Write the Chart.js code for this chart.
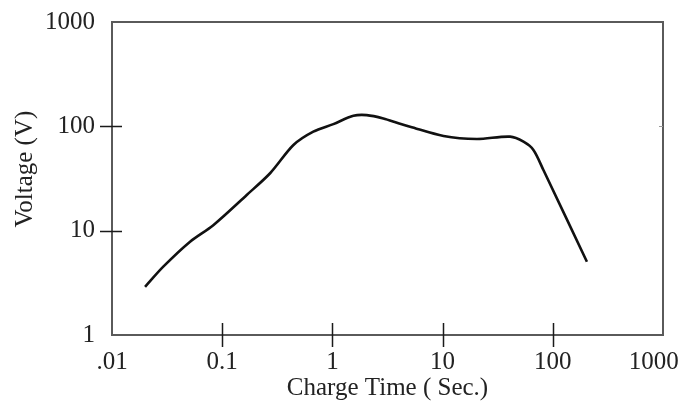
<!DOCTYPE html>
<html>
<head>
<meta charset="utf-8">
<script src="https://cdn.jsdelivr.net/npm/chart.js@4/dist/chart.umd.min.js"></script>
<style>
  html, body { margin: 0; padding: 0; background: #ffffff; }
  #wrap { width: 684px; height: 407px; position: relative; }
</style>
</head>
<body>
<div id="wrap"><canvas id="c" width="684" height="407"></canvas></div>
<script>
// Data (log-log chart)
const chargeTime = [0.01995, 0.0292, 0.0511, 0.083, 0.167, 0.272, 0.443, 0.671, 1.02, 1.55, 2.05, 2.90, 3.97, 5.07, 10.2, 20.4, 41.0, 54.2, 66.7, 82.2, 204];
const voltage    = [2.90, 4.52, 7.84, 11.3, 22.0, 35.5, 66.2, 88.9, 105, 126, 128, 119, 107, 99, 80.8, 75.6, 79.6, 71.2, 59.3, 38.1, 5.04];

const xTickValues = [0.01, 0.1, 1, 10, 100, 1000];
const xTickLabels = ['.01', '0.1', '1', '10', '100', '1000   '];
const yTickValues = [1, 10, 100, 1000];
const yTickLabels = ['1', '10', '100', '1000'];

const xTitle = 'Charge Time ( Sec.)';
const yTitle = '   Voltage (V)';

const FONT = 'Liberation Serif, Times New Roman, serif';

const points = chargeTime.map((t, i) => ({ x: t, y: voltage[i] }));

const frameAndTicks = {
  id: 'frameAndTicks',
  afterDatasetsDraw(chart) {
    const ctx = chart.ctx;
    const a = chart.chartArea;
    const xs = chart.scales.x, ys = chart.scales.y;
    ctx.save();
    // frame
    ctx.strokeStyle = '#5a5a5a';
    ctx.lineWidth = 2;
    ctx.strokeRect(a.left, a.top, a.right - a.left, a.bottom - a.top);
    // ticks crossing the axes
    ctx.strokeStyle = '#1a1a1a';
    ctx.lineWidth = 1.5;
    ctx.beginPath();
    xTickValues.forEach(v => {
      const px = Math.round(xs.getPixelForValue(v)) + 0.5;
      if (v === 0.01 || v === 1000) return;
      ctx.moveTo(px, a.bottom - 12);
      ctx.lineTo(px, a.bottom + 12);
    });
    yTickValues.forEach(v => {
      const py = Math.round(ys.getPixelForValue(v)) + 0.5;
      if (v === 1 || v === 1000) return;
      ctx.moveTo(a.left - 12, py);
      ctx.lineTo(a.left + 10, py);
    });
    ctx.stroke();
    // tiny mark on right axis
    ctx.strokeStyle = '#999';
    ctx.lineWidth = 1;
    ctx.beginPath();
    const py100 = Math.round(ys.getPixelForValue(100)) + 0.5;
    ctx.moveTo(a.right - 4, py100);
    ctx.lineTo(a.right, py100);
    ctx.stroke();
    ctx.restore();
  }
};

new Chart(document.getElementById('c'), {
  type: 'scatter',
  data: {
    datasets: [{
      data: points,
      showLine: true,
      borderColor: '#111111',
      backgroundColor: '#111111',
      borderWidth: 2.6,
      pointRadius: 0,
      tension: 0.3
    }]
  },
  options: {
    responsive: false,
    animation: false,
    devicePixelRatio: 1,
    layout: { padding: { top: 22, right: 21, left: 0, bottom: 0 } },
    plugins: { legend: { display: false }, tooltip: { enabled: false } },
    scales: {
      x: {
        type: 'logarithmic',
        min: 0.01,
        max: 1000,
        afterBuildTicks: s => { s.ticks = xTickValues.map(v => ({ value: v })); },
        afterFit: s => { s.height = 72; s.paddingLeft = 0; s.paddingRight = 0; },
        grid: { display: false },
        border: { display: false },
        ticks: {
          autoSkip: false,
          maxRotation: 0,
          padding: 4,
          color: '#222',
          font: { family: FONT, size: 25 },
          callback: (v, i) => xTickLabels[i]
        },
        title: {
          display: true,
          text: xTitle,
          color: '#222',
          font: { family: FONT, size: 25, lineHeight: 1.2 },
          padding: { top: 0, bottom: 4 }
        }
      },
      y: {
        type: 'logarithmic',
        min: 1,
        max: 1000,
        afterBuildTicks: s => { s.ticks = yTickValues.map(v => ({ value: v })); },
        afterFit: s => { s.width = 112; s.paddingTop = 0; s.paddingBottom = 0; },
        grid: { display: false },
        border: { display: false },
        ticks: {
          autoSkip: false,
          padding: 9,
          color: '#222',
          font: { family: FONT, size: 25 },
          callback: (v, i) => yTickLabels[i]
        },
        title: {
          display: true,
          text: yTitle,
          color: '#222',
          font: { family: FONT, size: 25, lineHeight: 1.2 },
          padding: { top: 10, bottom: 0 }
        }
      }
    }
  },
  plugins: [frameAndTicks]
});
</script>
</body>
</html>
